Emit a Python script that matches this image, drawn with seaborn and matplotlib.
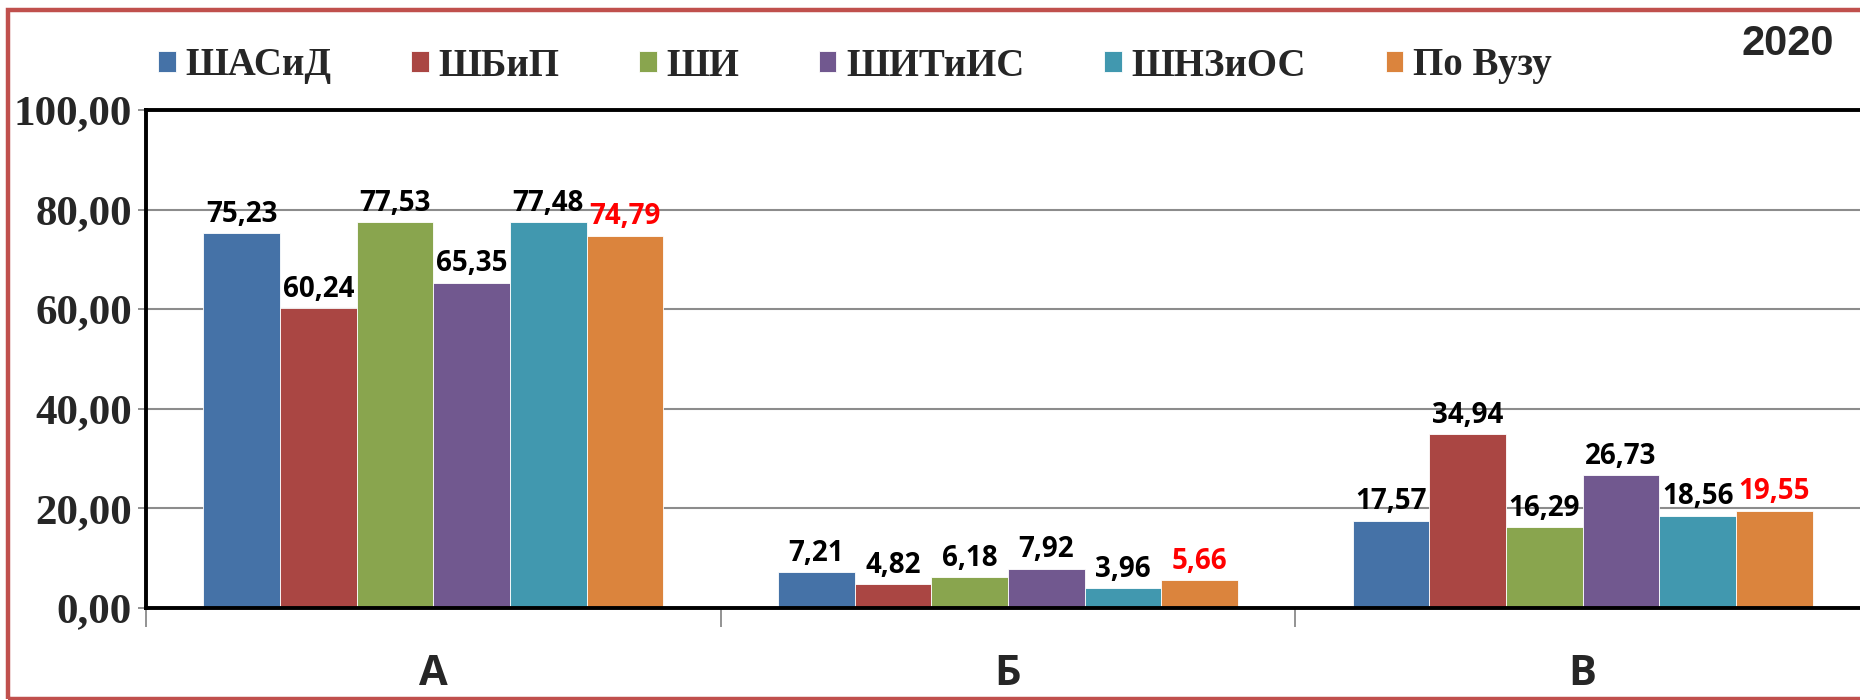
import pandas as pd
import matplotlib.pyplot as plt
import seaborn as sns
from matplotlib.patches import Rectangle

categories = ['А', 'Б', 'В']
schools = ['ШАСиД', 'ШБиП', 'ШИ', 'ШИТиИС', 'ШНЗиОС', 'По Вузу']
values = {
    'ШАСиД':   [75.23, 7.21, 17.57],
    'ШБиП':    [60.24, 4.82, 34.94],
    'ШИ':      [77.53, 6.18, 16.29],
    'ШИТиИС':  [65.35, 7.92, 26.73],
    'ШНЗиОС':  [77.48, 3.96, 18.56],
    'По Вузу': [74.79, 5.66, 19.55],
}
y_ticks = [0, 20, 40, 60, 80, 100]
colors = ['#4572A7', '#AA4643', '#89A54E', '#71588F', '#4198AF', '#DB843D']

rows = []
for s in schools:
    for c, v in zip(categories, values[s]):
        rows.append({'cat': c, 'school': s, 'val': v})
df = pd.DataFrame(rows)

sns.set_theme(style="white")

fig = plt.figure(figsize=(18.6, 7), dpi=100)
ax = fig.add_axes([146 / 1860, 1 - 608 / 700, (1870 - 146) / 1860, (608 - 110) / 700])

sns.barplot(data=df, x='cat', y='val', hue='school', hue_order=schools, order=categories,
            palette=colors, saturation=1, width=0.8, ax=ax, edgecolor='white', linewidth=0.6)

# value labels
for cont, s in zip(ax.containers, schools):
    col = '#FF0000' if s == 'По Вузу' else 'black'
    ax.bar_label(cont, labels=[f"{v:.2f}".replace('.', ',') for v in values[s]],
                 padding=3, color=col, fontsize=20, fontweight='bold', family='Open Sans')

ax.set_ylim(0, 100)
ax.set_xlim(-0.5, 2.5)
ax.set_yticks(y_ticks)
ax.set_yticklabels([f"{t:.2f}".replace('.', ',') for t in y_ticks],
                   family='Liberation Serif', fontsize=31, fontweight='bold')
ax.yaxis.grid(True, color='#8c8c8c', linewidth=1.5)
ax.set_axisbelow(True)
ax.tick_params(axis='y', length=6, width=1.2, color='#808080', pad=4, left=True)

# category labels + boundary ticks
ax.set_xticks([0, 1, 2])
ax.set_xticklabels(categories, family='Open Sans', fontsize=30, fontweight='bold')
ax.tick_params(axis='x', length=0, pad=33)
ax.set_xticks([-0.5, 0.5, 1.5, 2.5], minor=True)
ax.tick_params(axis='x', which='minor', length=14, width=1.2, color='#808080', bottom=True)

ax.set_xlabel('')
ax.set_ylabel('')
for side in ['left', 'bottom', 'top']:
    ax.spines[side].set_color('black')
    ax.spines[side].set_linewidth(2.8)
ax.spines['right'].set_visible(False)

# legend
handles, labels = ax.get_legend_handles_labels()
ax.legend_.remove()
fig.legend(handles, labels, loc='center', bbox_to_anchor=(855 / 1860, 1 - 66 / 700), ncol=6,
           frameon=False, prop={'family': 'Liberation Serif', 'weight': 'bold', 'size': 28},
           handlelength=0.45, handleheight=0.45, handletextpad=0.25, columnspacing=2.05)

fig.text(1834 / 1860, 1 - 44 / 700, '2020', ha='right', va='center',
         family='Liberation Sans', fontweight='bold', fontsize=30)

# red frame
fig.patches.append(Rectangle((8 / 1860, 1 / 700), 1.2, (700 - 11) / 700, transform=fig.transFigure,
                             fill=False, edgecolor='#C0504D', linewidth=3.2))

fig.savefig('out.png', dpi=100)
